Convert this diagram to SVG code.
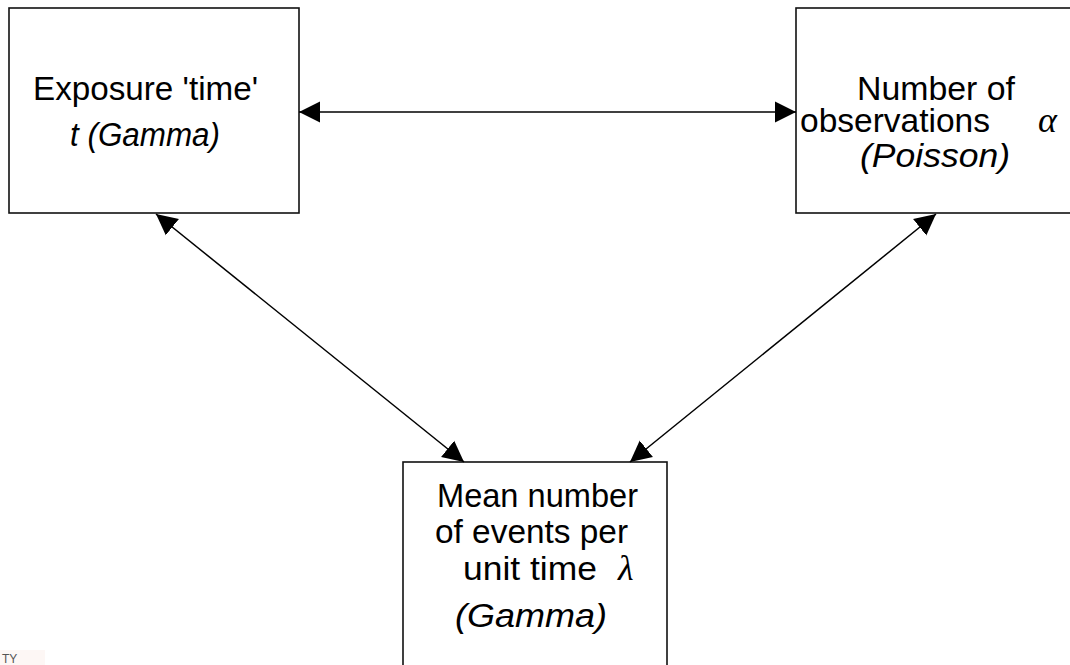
<svg xmlns="http://www.w3.org/2000/svg" width="1070" height="665" viewBox="0 0 1070 665">
  <style>
    .box { fill: #ffffff; stroke: #111111; stroke-width: 1.6; }
    .lbl { font-family: "Liberation Sans", Arial, sans-serif; font-size: 33px; fill: #000000; }
    .it { font-style: italic; }
    .sym { font-family: "Liberation Serif", "Times New Roman", serif; font-style: italic; font-size: 36px; fill: #000000; }
    .edge { stroke: #000000; stroke-width: 1.5; fill: none; marker-start: url(#head); marker-end: url(#head); }
  </style>
  <defs>
    <marker id="head" viewBox="0 0 22 22" refX="21" refY="11" markerWidth="22" markerHeight="22" markerUnits="userSpaceOnUse" orient="auto-start-reverse">
      <path d="M0,0.5 L21,11 L0,21.5 Z" fill="#000000"/>
    </marker>
  </defs>
  <rect width="1070" height="665" fill="#ffffff"/>

  <!-- exposure time -->
  <g id="node-exposure">
    <rect class="box" x="9" y="8" width="290" height="205"/>
    <text class="lbl" x="33" y="100" textLength="225" lengthAdjust="spacingAndGlyphs">Exposure 'time'</text>
    <text class="lbl it" x="70" y="146" textLength="150" lengthAdjust="spacingAndGlyphs">t (Gamma)</text>
  </g>

  <!-- number of observations -->
  <g id="node-observations">
    <rect class="box" x="796" y="8" width="290" height="205"/>
    <text class="lbl" x="857" y="100" textLength="158" lengthAdjust="spacingAndGlyphs">Number of</text>
    <text class="lbl" x="800" y="132" textLength="190" lengthAdjust="spacingAndGlyphs">observations</text>
    <text class="sym" x="1038" y="132">α</text>
    <text class="lbl it" x="860" y="167" textLength="150" lengthAdjust="spacingAndGlyphs">(Poisson)</text>
  </g>

  <!-- mean rate -->
  <g id="node-rate">
    <rect class="box" x="403" y="462" width="264" height="220"/>
    <text class="lbl" x="437" y="507" textLength="201" lengthAdjust="spacingAndGlyphs">Mean number</text>
    <text class="lbl" x="435" y="543" textLength="193" lengthAdjust="spacingAndGlyphs">of events per</text>
    <text class="lbl" x="463" y="580" textLength="134" lengthAdjust="spacingAndGlyphs">unit time</text>
    <text class="sym" x="618" y="580">λ</text>
    <text class="lbl it" x="455" y="627" textLength="152" lengthAdjust="spacingAndGlyphs">(Gamma)</text>
  </g>

  <!-- two-way relations -->
  <g id="connectors">
    <line class="edge" x1="299" y1="112" x2="796" y2="112"/>
    <line class="edge" x1="156" y1="214" x2="464" y2="462"/>
    <line class="edge" x1="936" y1="214" x2="630" y2="462"/>
  </g>

  <!-- corner tag -->
  <g id="corner-tag">
    <rect x="0" y="650" width="45" height="15" fill="#fdf7f5"/>
    <text x="2" y="663" font-family="Liberation Sans, Arial, sans-serif" font-size="12" fill="#555555">TY</text>
  </g>
</svg>
